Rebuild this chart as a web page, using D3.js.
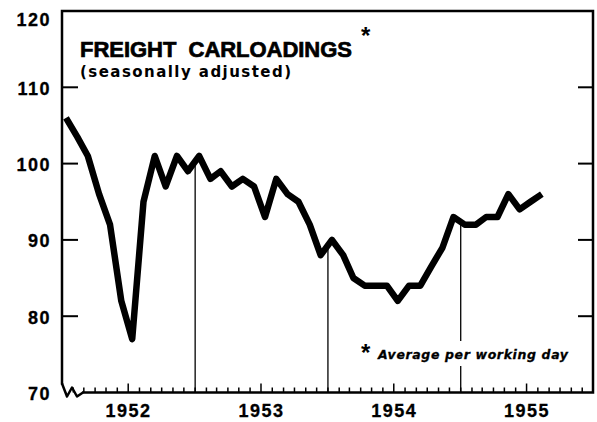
<!DOCTYPE html>
<html>
<head>
<meta charset="utf-8">
<script src="https://cdn.jsdelivr.net/npm/d3@7"></script>
<style>
  body { margin: 0; background: #fff; }
  text { font-family: "Liberation Sans", Arial, sans-serif; font-weight: bold; fill: #000; }
  .title { white-space: pre; }
  .sub { font-family: "DejaVu Sans", sans-serif; }
  .note { font-family: "DejaVu Sans", sans-serif; font-style: italic; }
</style>
</head>
<body>
<div id="chart"></div>
<script>
// monthly carloadings index, Jan 1952 .. Aug 1955
var values = [106, 103.5, 101, 96, 92, 82, 77, 95, 101, 97, 101, 99,
              101, 98, 99, 97, 98, 97, 93, 98, 96, 95, 92, 88,
              90, 88, 85, 84, 84, 84, 82, 84, 84, 86.5, 89, 93,
              92, 92, 93, 93, 96, 94, 95, 96];
var yTicks = [70, 80, 90, 100, 110, 120];
var years = [1952, 1953, 1954, 1955];
var title = "FREIGHT  CARLOADINGS";
var subtitle = "(seasonally adjusted)";
var footnote = "Average per working day";

var svgWidth = 597, svgHeight = 422;
var plotLeft = 62, plotRight = 593, plotTop = 11, plotBottom = 392.5;

var svg = d3.select("#chart")
  .append("svg")
  .attr("width", svgWidth)
  .attr("height", svgHeight);

var x = d3.scaleTime()
  .domain([new Date(1952, 0, 1), new Date(1956, 0, 1)])
  .range([plotLeft, plotRight + 0.5]);

var y = d3.scaleLinear()
  .domain([70, 120])
  .range([plotBottom, plotTop]);

var data = values.map(function(v, i) {
  return { date: new Date(1952, i, 12), value: v };
});

// value of the line at a given date (for the year divider lines)
function valueAt(d) {
  var i = d3.bisector(function(p) { return p.date; }).right(data, d) - 1;
  var a = data[i], b = data[i + 1];
  var t = (d - a.date) / (b.date - a.date);
  return a.value + t * (b.value - a.value);
}

// year divider lines
years.slice(1).forEach(function(yr) {
  var d = new Date(yr, 0, 1);
  svg.append("line")
    .attr("x1", x(d)).attr("x2", x(d))
    .attr("y1", y(valueAt(d))).attr("y2", plotBottom)
    .attr("stroke", "#000")
    .attr("stroke-width", 1.3);
});

// month ticks on the bottom axis
var months = d3.timeMonth.range(new Date(1952, 1, 1), new Date(1956, 0, 1));
svg.selectAll(".mtick")
  .data(months)
  .enter().append("line")
    .attr("class", "mtick")
    .attr("x1", function(d) { return x(d); })
    .attr("x2", function(d) { return x(d); })
    .attr("y1", plotBottom)
    .attr("y2", function(d) { return d.getMonth() === 6 ? plotBottom - 9 : plotBottom - 5; })
    .attr("stroke", "#000")
    .attr("stroke-width", 1.5);

// frame
var frame = svg.append("g")
  .attr("fill", "none")
  .attr("stroke", "#000")
  .attr("stroke-width", 2.5);

frame.append("path")
  .attr("d", "M" + plotLeft + "," + (plotBottom - 8) + "V" + plotTop + "H" + plotRight +
             "V" + plotBottom + "H" + (plotLeft + 20));

// zigzag break at the lower left
frame.append("path")
  .attr("stroke-linejoin", "round")
  .attr("d", "M" + plotLeft + "," + (plotBottom - 9) + "L" + (plotLeft + 5) + "," + (plotBottom + 4) +
             "L" + (plotLeft + 10) + "," + (plotBottom - 5) + "L" + (plotLeft + 15) + "," + (plotBottom + 4) +
             "L" + (plotLeft + 21) + "," + plotBottom);

// y ticks both sides
var inner = yTicks.filter(function(v) { return v > 70 && v < 120; });
svg.selectAll(".ltick")
  .data(inner)
  .enter().append("line")
    .attr("class", "ltick")
    .attr("x1", plotLeft).attr("x2", plotLeft + 16)
    .attr("y1", function(d) { return y(d); })
    .attr("y2", function(d) { return y(d); })
    .attr("stroke", "#000").attr("stroke-width", 2);
svg.selectAll(".rtick")
  .data(inner)
  .enter().append("line")
    .attr("class", "rtick")
    .attr("x1", plotRight - 15).attr("x2", plotRight)
    .attr("y1", function(d) { return y(d); })
    .attr("y2", function(d) { return y(d); })
    .attr("stroke", "#000").attr("stroke-width", 2);

// y labels
svg.selectAll(".ylab")
  .data(yTicks)
  .enter().append("text")
    .attr("class", "ylab")
    .attr("x", 51)
    .attr("y", function(d) { return d === 120 ? y(d) + 15 : y(d) + 7.5; })
    .attr("text-anchor", "end")
    .attr("font-size", 18)
    .attr("letter-spacing", 1.5)
    .attr("stroke", "#000").attr("stroke-width", 0.3)
    .text(function(d) { return d; });

// year labels
svg.selectAll(".xlab")
  .data(years)
  .enter().append("text")
    .attr("class", "xlab")
    .attr("x", function(d) { return (x(new Date(d, 0, 1)) + x(new Date(d + 1, 0, 1))) / 2; })
    .attr("y", 417)
    .attr("text-anchor", "middle")
    .attr("font-size", 18)
    .attr("letter-spacing", 1.5)
    .attr("stroke", "#000").attr("stroke-width", 0.3)
    .text(function(d) { return d; });

// data line
var line = d3.line()
  .x(function(d) { return x(d.date); })
  .y(function(d) { return y(d.value); });

svg.append("path")
  .datum(data)
  .attr("d", line)
  .attr("fill", "none")
  .attr("stroke", "#000")
  .attr("stroke-width", 6.5)
  .attr("stroke-linejoin", "round");

// titles
svg.append("text")
  .attr("class", "title")
  .attr("x", 80).attr("y", 56.5)
  .attr("font-size", 22)
  .attr("textLength", 272)
  .attr("lengthAdjust", "spacing")
  .attr("stroke", "#000").attr("stroke-width", 0.7)
  .text(title);
svg.append("text")
  .attr("x", 361).attr("y", 44)
  .attr("font-size", 24)
  .text("*");
svg.append("text")
  .attr("class", "sub")
  .attr("x", 80).attr("y", 77)
  .attr("font-size", 15)
  .attr("textLength", 211)
  .attr("lengthAdjust", "spacing")
  .text(subtitle);

// footnote, with a white patch that breaks the 1955 divider
svg.append("rect")
  .attr("x", 376).attr("y", 341)
  .attr("width", 196).attr("height", 25)
  .attr("fill", "#fff");
svg.append("text")
  .attr("x", 361).attr("y", 361)
  .attr("font-size", 24)
  .text("*");
svg.append("text")
  .attr("class", "note")
  .attr("x", 378).attr("y", 359)
  .attr("font-size", 12.5)
  .attr("textLength", 190)
  .attr("lengthAdjust", "spacing")
  .attr("stroke", "#000").attr("stroke-width", 0.3)
  .text(footnote);
</script>
</body>
</html>
